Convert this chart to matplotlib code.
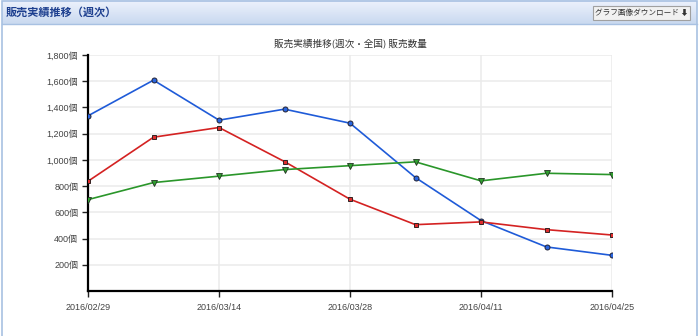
import numpy as np
import matplotlib
matplotlib.use("Agg")
import matplotlib.pyplot as plt
import matplotlib.dates as mdates
from matplotlib.patches import Rectangle, FancyBboxPatch
from matplotlib.ticker import FuncFormatter, FixedLocator

# weekly sales (販売数量)
weeks = ["2016-02-29", "2016-03-07", "2016-03-14", "2016-03-21", "2016-03-28",
         "2016-04-04", "2016-04-11", "2016-04-18", "2016-04-25"]
blue_vals = [1336, 1608, 1303, 1387, 1280, 865, 537, 336, 272]
red_vals = [837, 1173, 1247, 987, 700, 506, 527, 468, 427]
green_vals = [697, 827, 876, 926, 956, 985, 840, 898, 888]

tick_weeks = ["2016-02-29", "2016-03-14", "2016-03-28", "2016-04-11", "2016-04-25"]
y_ticks = [200, 400, 600, 800, 1000, 1200, 1400, 1600, 1800]

header_title = "販売実績推移（週次）"
chart_title = "販売実績推移(週次・全国) 販売数量"
button_text = "グラフ画像ダウンロード ⬇"

JP = ["Noto Sans CJK JP", "DejaVu Sans"]
NUM = ["Liberation Sans", "Noto Sans CJK JP", "DejaVu Sans"]

W, H = 700, 336
fig = plt.figure(figsize=(W / 100, H / 100), dpi=100)
fig.patch.set_facecolor("white")


def fx(px):
    return px / W


def fy(py):
    return 1 - py / H


# header bar with a soft vertical gradient
hax = fig.add_axes([fx(2), fy(24), fx(695), 24 / H])
grad = np.linspace(0, 1, 50).reshape(-1, 1)
top_c = np.array([0.93, 0.95, 0.99])
bot_c = np.array([0.79, 0.85, 0.94])
img = top_c + (bot_c - top_c) * grad[:, :, None]
hax.imshow(img, aspect="auto", extent=[0, 1, 0, 1], origin="upper")
hax.set_axis_off()

# panel outline (open at the bottom, the panel runs past the crop)
fig.patches.append(Rectangle((fx(2), -0.05), fx(695), fy(0.5) + 0.05, transform=fig.transFigure,
                             fill=False, edgecolor="#a8c1e2", linewidth=1.2))
fig.add_artist(plt.Line2D([fx(2), fx(697)], [fy(24), fy(24)], transform=fig.transFigure,
                          color="#a8c1e2", linewidth=1))

fig.text(fx(6), fy(12), header_title, family=JP, fontsize=8, fontweight="bold",
         color="#1d3f8f", va="center", ha="left")

# download button
fig.patches.append(FancyBboxPatch((fx(593), fy(20)), fx(97), 14 / H, transform=fig.transFigure,
                                  boxstyle="square,pad=0", facecolor="#f1f1f1",
                                  edgecolor="#a0a0a0", linewidth=0.8))
fig.text(fx(641.5), fy(13), button_text, family=JP, fontsize=5.5, color="#333333",
         ha="center", va="center")

fig.text(fx(350), fy(43), chart_title, family=JP, fontsize=6.9, color="#333333",
         ha="center", va="center")

# main plot
ax = fig.add_axes([fx(88), fy(291), fx(612 - 88), (291 - 55) / H])
x = mdates.datestr2num(weeks)
ax.plot(x, blue_vals, color="#1f5bd8", linewidth=1.2, marker="o", markersize=3.6,
        markerfacecolor="#2a66e0", markeredgecolor="#222233", markeredgewidth=0.7, zorder=3)
ax.plot(x, red_vals, color="#d42222", linewidth=1.2, marker="s", markersize=3.4,
        markerfacecolor="#e02c2c", markeredgecolor="#332222", markeredgewidth=0.7, zorder=3)
ax.plot(x, green_vals, color="#2a962a", linewidth=1.2, marker="v", markersize=4,
        markerfacecolor="#2f9f2f", markeredgecolor="#223322", markeredgewidth=0.6, zorder=3)

ax.set_xlim(x[0], x[-1])
ax.set_ylim(0, 1800)

xt = mdates.datestr2num(tick_weeks)
ax.xaxis.set_major_locator(FixedLocator(xt))
ax.set_xticklabels([d.replace("-", "/") for d in tick_weeks])
ax.yaxis.set_major_locator(FixedLocator(y_ticks))
ax.yaxis.set_major_formatter(FuncFormatter(lambda v, p: f"{int(v):,}個"))

for lab in ax.get_xticklabels() + ax.get_yticklabels():
    lab.set_family(NUM)
    lab.set_fontsize(6.5)
    lab.set_color("#444444")

ax.grid(True, color="#ebebeb", linewidth=1.1, zorder=0)
ax.set_axisbelow(True)
ax.spines["top"].set_visible(False)
ax.spines["right"].set_visible(False)
for s in ("left", "bottom"):
    ax.spines[s].set_linewidth(1.6)
    ax.spines[s].set_color("black")
ax.tick_params(axis="both", direction="out", length=4, width=1, color="#222222", pad=3)
ax.tick_params(axis="x", pad=5)

fig.savefig("out.png", dpi=100)
